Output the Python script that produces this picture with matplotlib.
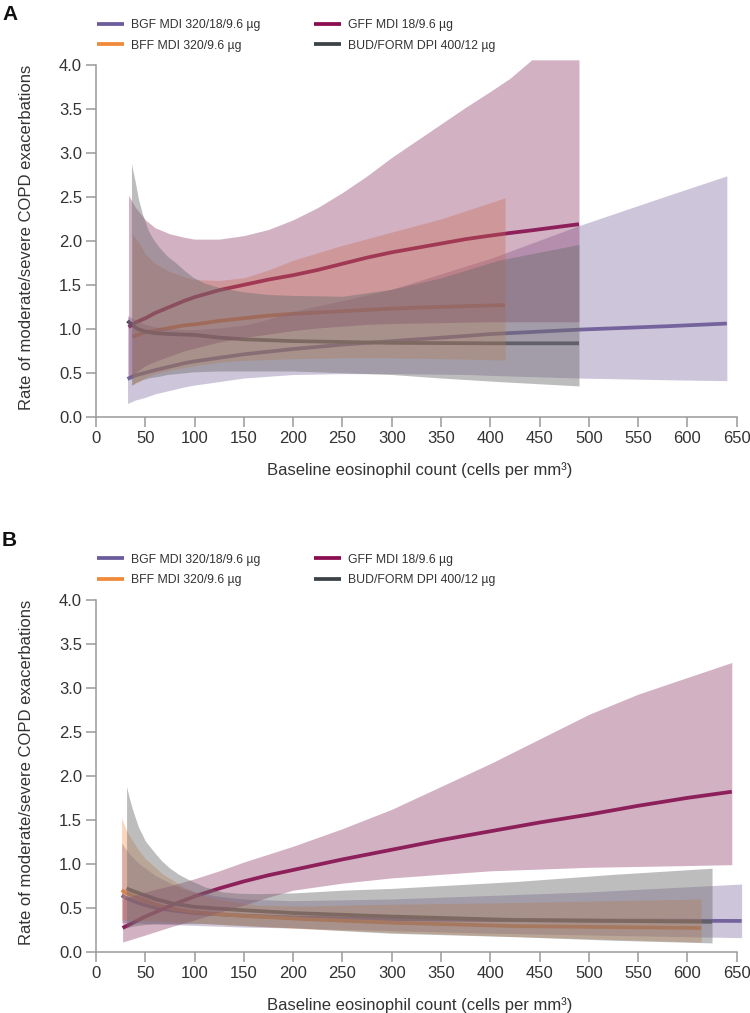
import matplotlib

matplotlib.use("Agg")
import matplotlib.pyplot as plt
from matplotlib.lines import Line2D

plt.rcParams["font.family"] = ["Liberation Sans", "DejaVu Sans"]

# ---- panel A: rate estimates and 95% bands ----
a_bgf_x = [32, 40, 50, 60, 75, 90, 100, 125, 150, 175, 200, 250, 300, 377, 400, 489, 581, 640]
a_bgf_y = [0.43, 0.47, 0.50, 0.53, 0.57, 0.61, 0.63, 0.67, 0.71, 0.74, 0.77, 0.82, 0.86, 0.92, 0.94, 0.99, 1.03, 1.06]
a_bgf_lo = [0.15, 0.19, 0.22, 0.26, 0.30, 0.34, 0.36, 0.40, 0.44, 0.46, 0.48, 0.49, 0.49, 0.48, 0.47, 0.44, 0.42, 0.41]
a_bgf_hi = [1.15, 1.10, 1.05, 1.02, 1.00, 0.99, 0.99, 1.01, 1.04, 1.11, 1.20, 1.32, 1.45, 1.72, 1.80, 2.17, 2.52, 2.74]

a_bff_x = [37, 45, 50, 60, 75, 90, 100, 125, 150, 175, 200, 250, 300, 350, 415]
a_bff_y = [0.91, 0.94, 0.96, 0.98, 1.01, 1.04, 1.05, 1.09, 1.12, 1.15, 1.17, 1.20, 1.23, 1.25, 1.27]
a_bff_lo = [0.36, 0.41, 0.45, 0.49, 0.53, 0.56, 0.58, 0.62, 0.64, 0.65, 0.66, 0.67, 0.67, 0.66, 0.645]
a_bff_hi = [2.08, 1.95, 1.85, 1.74, 1.65, 1.59, 1.56, 1.55, 1.58, 1.67, 1.78, 1.95, 2.10, 2.25, 2.49]

a_gff_x = [33, 40, 50, 60, 75, 90, 100, 125, 150, 175, 200, 225, 250, 275, 300, 325, 350, 375, 400, 420, 442, 490]
a_gff_y = [1.02, 1.07, 1.12, 1.18, 1.25, 1.32, 1.36, 1.44, 1.50, 1.56, 1.61, 1.67, 1.74, 1.81, 1.87, 1.92,
           1.97, 2.02, 2.06, 2.09, 2.12, 2.19]
a_gff_lo = [0.45, 0.50, 0.58, 0.63, 0.69, 0.75, 0.78, 0.85, 0.90, 0.94, 0.98, 1.01, 1.03, 1.05, 1.06, 1.065,
            1.07, 1.075, 1.08, 1.08, 1.08, 1.08]
a_gff_hi = [2.52, 2.38, 2.24, 2.15, 2.08, 2.04, 2.02, 2.02, 2.06, 2.13, 2.24, 2.38, 2.55, 2.74, 2.95, 3.14,
            3.33, 3.52, 3.70, 3.85, 4.06, 4.06]

a_bud_x = [32, 37, 42, 50, 60, 75, 100, 125, 150, 200, 250, 300, 400, 490]
a_bud_y = [1.09, 1.04, 1.00, 0.97, 0.95, 0.94, 0.93, 0.90, 0.88, 0.86, 0.85, 0.84, 0.835, 0.835]
a_bud_bx = [36, 38, 40, 43, 47, 53, 58, 64, 72, 81, 90, 98, 110, 125, 150, 175, 200, 250, 300, 350, 408, 490]
a_bud_lo = [0.36, 0.37, 0.39, 0.40, 0.42, 0.44, 0.45, 0.46, 0.48, 0.49, 0.50, 0.51, 0.515, 0.52, 0.52, 0.52,
            0.52, 0.50, 0.48, 0.44, 0.40, 0.35]
a_bud_hi = [2.88, 2.77, 2.66, 2.48, 2.31, 2.12, 2.02, 1.93, 1.83, 1.75, 1.66, 1.59, 1.52, 1.47, 1.42, 1.39,
            1.38, 1.37, 1.45, 1.58, 1.78, 1.96]

# ---- panel B ----
b_bgf_x = [26, 30, 35, 43, 50, 60, 77, 88, 100, 125, 150, 200, 300, 400, 500, 655]
b_bgf_y = [0.64, 0.615, 0.59, 0.555, 0.53, 0.50, 0.47, 0.455, 0.44, 0.425, 0.41, 0.39, 0.37, 0.36, 0.355, 0.35]
b_bgf_lo = [0.33, 0.33, 0.33, 0.325, 0.32, 0.315, 0.31, 0.305, 0.30, 0.29, 0.28, 0.27, 0.24, 0.21, 0.19, 0.16]
b_bgf_hi = [1.24, 1.17, 1.10, 1.01, 0.95, 0.87, 0.77, 0.72, 0.68, 0.63, 0.60, 0.58, 0.60, 0.64, 0.68, 0.77]

b_bff_x = [26, 30, 35, 43, 50, 60, 68, 77, 88, 100, 111, 128, 145, 162, 213, 300, 428, 614]
b_bff_y = [0.70, 0.67, 0.65, 0.61, 0.58, 0.54, 0.51, 0.49, 0.47, 0.45, 0.44, 0.425, 0.41, 0.40, 0.37, 0.33,
           0.29, 0.27]
b_bff_lo = [0.36, 0.36, 0.36, 0.35, 0.35, 0.35, 0.345, 0.34, 0.335, 0.33, 0.32, 0.31, 0.30, 0.29, 0.26, 0.22,
            0.17, 0.11]
b_bff_hi = [1.52, 1.40, 1.30, 1.16, 1.06, 0.96, 0.88, 0.82, 0.74, 0.68, 0.63, 0.59, 0.56, 0.53, 0.52, 0.54,
            0.56, 0.60]

b_gff_x = [27, 50, 75, 100, 125, 150, 175, 200, 250, 300, 350, 400, 450, 500, 550, 600, 645]
b_gff_y = [0.27, 0.40, 0.52, 0.63, 0.72, 0.80, 0.87, 0.93, 1.05, 1.16, 1.27, 1.37, 1.47, 1.56, 1.66, 1.75, 1.82]
b_gff_lo = [0.11, 0.19, 0.28, 0.36, 0.45, 0.53, 0.62, 0.70, 0.78, 0.84, 0.88, 0.92, 0.94, 0.96, 0.97, 0.98, 0.99]
b_gff_hi = [0.60, 0.68, 0.75, 0.83, 0.92, 1.02, 1.11, 1.20, 1.40, 1.62, 1.88, 2.14, 2.42, 2.70, 2.93, 3.12, 3.29]

b_bud_x = [31, 40, 50, 60, 77, 100, 125, 145, 200, 300, 428, 625]
b_bud_y = [0.72, 0.68, 0.64, 0.60, 0.55, 0.51, 0.49, 0.475, 0.44, 0.40, 0.36, 0.34]
b_bud_bx = [31, 34, 37, 40, 43, 47, 50, 55, 60, 67, 75, 84, 94, 110, 128, 145, 163, 203, 250, 300, 428, 525, 625]
b_bud_lo = [0.27, 0.28, 0.29, 0.295, 0.30, 0.305, 0.31, 0.315, 0.32, 0.32, 0.32, 0.32, 0.32, 0.32, 0.31, 0.30,
            0.29, 0.27, 0.24, 0.21, 0.17, 0.13, 0.10]
b_bud_hi = [1.88, 1.74, 1.62, 1.52, 1.42, 1.33, 1.26, 1.19, 1.12, 1.03, 0.95, 0.88, 0.82, 0.74, 0.68, 0.665,
            0.66, 0.67, 0.70, 0.72, 0.80, 0.88, 0.95]

labels = ["BGF MDI 320/18/9.6 µg", "BFF MDI 320/9.6 µg", "GFF MDI 18/9.6 µg", "BUD/FORM DPI 400/12 µg"]
line_colors = ["#6b5b9b", "#f08a3a", "#8c0c50", "#3b4346"]
band_colors = ["#8470a2", "#f0883a", "#8f3d6a", "#6e6e6e"]
band_alpha = [0.40, 0.35, 0.40, 0.45]

x_ticks = list(range(0, 651, 50))
y_ticks = [0.0, 0.5, 1.0, 1.5, 2.0, 2.5, 3.0, 3.5, 4.0]

W, H = 750, 1013
SPINE = "#9a9a9a"
TEXT = "#333333"


def draw_panel(ax, series):
    for i, (x, y, bx, lo, hi) in enumerate(series):
        ax.plot(x, y, color=line_colors[i], lw=2.7, solid_capstyle="butt", zorder=2)
    for i, (x, y, bx, lo, hi) in enumerate(series):
        ax.fill_between(bx, lo, hi, color=band_colors[i], alpha=band_alpha[i], lw=0, zorder=3)

    ax.set_xlim(0, 656)
    ax.set_ylim(0, 4.08)
    ax.spines["top"].set_visible(False)
    ax.spines["right"].set_visible(False)
    for side in ("left", "bottom"):
        ax.spines[side].set_color(SPINE)
        ax.spines[side].set_linewidth(1.1)
    ax.spines["left"].set_bounds(0, 4)
    ax.spines["bottom"].set_bounds(0, 650)
    ax.set_xticks(x_ticks)
    ax.set_yticks(y_ticks)
    ax.set_yticklabels([f"{v:.1f}" for v in y_ticks])
    ax.tick_params(length=7, width=1.1, color=SPINE, labelcolor=TEXT, labelsize=12, pad=3)
    ax.set_xlabel("Baseline eosinophil count (cells per mm³)", fontsize=12, color=TEXT, labelpad=12)
    ax.set_ylabel("Rate of moderate/severe COPD exacerbations", fontsize=12, color=TEXT, labelpad=18)


def add_legend(fig, row_mid_px):
    handles = [Line2D([], [], color=c, lw=2.7, solid_capstyle="butt") for c in line_colors]
    for col, x_px in enumerate((97, 314)):
        leg = fig.legend(
            handles[col * 2:col * 2 + 2],
            labels[col * 2:col * 2 + 2],
            loc="center left",
            bbox_to_anchor=(x_px / W, 1 - row_mid_px / H),
            bbox_transform=fig.transFigure,
            frameon=False,
            fontsize=8.8,
            handlelength=2.2,
            handletextpad=0.6,
            labelspacing=0.7,
            borderpad=0,
            borderaxespad=0,
        )
        for t in leg.get_texts():
            t.set_color(TEXT)


fig = plt.figure(figsize=(W / 100, H / 100), dpi=100)

left = 96 / W
width = (656 * 640.7 / 650) / W
px_per_unit = 87.9

axA = fig.add_axes([left, 1 - 416.7 / H, width, 4.08 * px_per_unit / H])
draw_panel(axA, [
    (a_bgf_x, a_bgf_y, a_bgf_x, a_bgf_lo, a_bgf_hi),
    (a_bff_x, a_bff_y, a_bff_x, a_bff_lo, a_bff_hi),
    (a_gff_x, a_gff_y, a_gff_x, a_gff_lo, a_gff_hi),
    (a_bud_x, a_bud_y, a_bud_bx, a_bud_lo, a_bud_hi),
])
add_legend(fig, 35.3)

axB = fig.add_axes([left, 1 - 951.7 / H, width, 4.08 * px_per_unit / H])
draw_panel(axB, [
    (b_bgf_x, b_bgf_y, b_bgf_x, b_bgf_lo, b_bgf_hi),
    (b_bff_x, b_bff_y, b_bff_x, b_bff_lo, b_bff_hi),
    (b_gff_x, b_gff_y, b_gff_x, b_gff_lo, b_gff_hi),
    (b_bud_x, b_bud_y, b_bud_bx, b_bud_lo, b_bud_hi),
])
add_legend(fig, 570)

fig.text(2 / W, 1 - 15 / H, "A", fontsize=15, fontweight="bold", color="#111111", va="center", ha="left")
fig.text(2 / W, 1 - 540 / H, "B", fontsize=15, fontweight="bold", color="#111111", va="center", ha="left")

fig.savefig("out.png", dpi=100)
plt.close(fig)
